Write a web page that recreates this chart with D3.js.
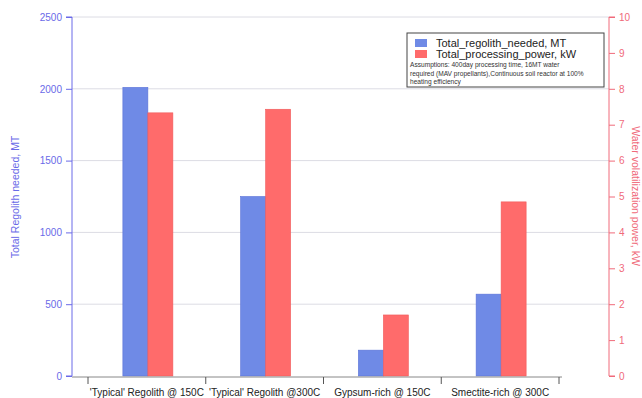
<!DOCTYPE html>
<html><head><meta charset="utf-8">
<script src="https://cdn.jsdelivr.net/npm/d3@7"></script>
<style>body{margin:0;background:#fff;}svg{display:block;font-family:Arial,"Liberation Sans",sans-serif;}</style>
</head><body><svg id="c" width="642" height="398"></svg>
<script>
const categories = ["'Typical' Regolith  @ 150C", "'Typical' Regolith @300C", "Gypsum-rich @ 150C", "Smectite-rich @ 300C"];
const regolithNeeded = [2010, 1250, 180, 570];
const processingPower = [7.33, 7.43, 1.70, 4.85];
const leftTicks = [0, 500, 1000, 1500, 2000, 2500];
const rightTicks = [0,1,2,3,4,5,6,7,8,9,10];
const seriesNames = ["Total_regolith_needed, MT", "Total_processing_power, kW"];
const note = ["Assumptions: 400day processing time, 16MT water", "required (MAV propellants),Continuous soil reactor at 100%", "heating efficiency"];

const blue = "#6f8ae6", red = "#ff6b6b", axisBlue = "#6a6ae8", axisRed = "#f06a7a";
const svg = d3.select("#c");
const L = 72, R = 609, T = 17, B = 376;
const y = d3.scaleLinear().domain([0, 2500]).range([B, T]);
const y2 = d3.scaleLinear().domain([0, 10]).range([B, T]);
const x = d3.scaleBand().domain(categories).range([88, 559]).paddingInner(0).paddingOuter(0);
const xs = d3.scaleBand().domain([0,1]).range([0, 50]);
const off = (x.bandwidth() - 50) / 2 + 1;

// grid
svg.append("g").selectAll("line").data(leftTicks.slice(1)).join("line")
  .attr("x1", L).attr("x2", R).attr("y1", d => y(d)).attr("y2", d => y(d))
  .attr("stroke", "#dcdce4").attr("stroke-width", 1);

// bars
svg.append("g").selectAll("rect").data(regolithNeeded).join("rect")
  .attr("x", (d,i) => x(categories[i]) + off + xs(0)).attr("width", xs.bandwidth())
  .attr("y", d => y(d)).attr("height", d => B - y(d))
  .attr("fill", blue).attr("stroke", "#5a72d8").attr("stroke-width", 0.6);
svg.append("g").selectAll("rect").data(processingPower).join("rect")
  .attr("x", (d,i) => x(categories[i]) + off + xs(1)).attr("width", xs.bandwidth())
  .attr("y", d => y2(d)).attr("height", d => B - y2(d))
  .attr("fill", red).attr("stroke", "#f05a5a").attr("stroke-width", 0.6);

// left axis
const la = svg.append("g").attr("transform", `translate(${L},0)`)
  .call(d3.axisLeft(y).tickValues(leftTicks).tickFormat(d3.format("d")).tickSize(6).tickPadding(4));
la.selectAll("path,line").attr("stroke", axisBlue);
la.selectAll("text").attr("fill", axisBlue).attr("font-size", 10);
la.select(".domain").attr("d", `M-6,${B}H0V${T}H-6`);

// right axis
const ra = svg.append("g").attr("transform", `translate(${R},0)`)
  .call(d3.axisRight(y2).tickValues(rightTicks).tickFormat(d3.format("d")).tickSize(6).tickPadding(4));
ra.selectAll("path,line").attr("stroke", axisRed);
ra.selectAll("text").attr("fill", axisRed).attr("font-size", 10);
ra.select(".domain").attr("d", `M6,${B}H0V${T}H6`);

// x axis
const xa = svg.append("g").attr("transform", `translate(0,${B+1})`);
xa.append("line").attr("x1", 72).attr("x2", 562).attr("stroke", "#888");
const bounds = categories.map(c => x(c)).concat([x(categories[3]) + x.bandwidth()]);
xa.selectAll("line.t").data(bounds).join("line").attr("class","t")
  .attr("x1", d => d).attr("x2", d => d).attr("y1", 0).attr("y2", 7).attr("stroke", "#555");
xa.selectAll("text").data(categories).join("text")
  .attr("x", d => x(d) + x.bandwidth()/2).attr("y", 19).attr("text-anchor", "middle")
  .attr("font-size", 10).attr("fill", "#222").text(d => d);

// axis titles
svg.append("text").attr("transform", `translate(19,197) rotate(-90)`).attr("text-anchor","middle")
  .attr("font-size", 10.5).attr("fill", axisBlue).text("Total Regolith needed, MT");
svg.append("text").attr("transform", `translate(632,196) rotate(90)`).attr("text-anchor","middle")
  .attr("font-size", 10.5).attr("fill", axisRed).text("Water volatilization power, kW");

// legend
const lg = svg.append("g");
lg.append("rect").attr("x", 407).attr("y", 33).attr("width", 197).attr("height", 54)
  .attr("fill", "#fff").attr("stroke", "#444").attr("stroke-width", 1);
[blue, red].forEach((c, i) => {
  lg.append("rect").attr("x", 415).attr("y", 39 + i*11).attr("width", 12).attr("height", 8).attr("fill", c);
  lg.append("text").attr("x", 436).attr("y", 46.5 + i*11).attr("font-size", 11).attr("fill", "#222").text(seriesNames[i]);
});
note.forEach((t, i) => {
  lg.append("text").attr("x", 410).attr("y", 67 + i*8.5).attr("font-size", 6.6).attr("fill", "#333").text(t);
});
</script></body></html>
